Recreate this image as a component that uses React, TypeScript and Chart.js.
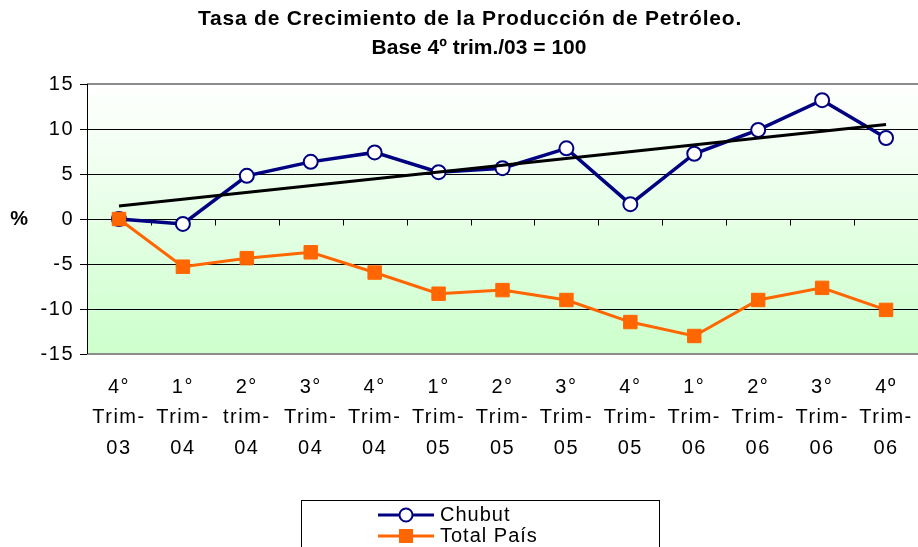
import React, { useEffect, useRef } from "react";
import { Chart, registerables } from "chart.js";

Chart.register(...registerables);

const categories: string[][] = [
  ["4°", "Trim-", "03"],
  ["1°", "Trim-", "04"],
  ["2°", "trim-", "04"],
  ["3°", "Trim-", "04"],
  ["4°", "Trim-", "04"],
  ["1°", "Trim-", "05"],
  ["2°", "Trim-", "05"],
  ["3°", "Trim-", "05"],
  ["4°", "Trim-", "05"],
  ["1°", "Trim-", "06"],
  ["2°", "Trim-", "06"],
  ["3°", "Trim-", "06"],
  ["4º", "Trim-", "06"],
];

const chubut = [0, -0.55, 4.8, 6.35, 7.4, 5.2, 5.65, 7.85, 1.65, 7.25, 9.9, 13.2, 9.0];
const totalPais = [0, -5.3, -4.35, -3.7, -5.95, -8.3, -7.9, -9.0, -11.45, -13.0, -9.0, -7.65, -10.1];
const trendChubut: (number | null)[] = [1.45, null, null, null, null, null, null, null, null, null, null, null, 10.5];

const yTicks = [-15, -10, -5, 0, 5, 10, 15];
const titleLines = ["Tasa de Crecimiento de la Producción de Petróleo.", "Base 4º trim./03 = 100"];
const yAxisLabel = "%";
const seriesNames = ["Chubut", "Total País", "Tendencia"];

const FONT = "'Liberation Sans', Arial, sans-serif";
const SPACING = "1.5px";

const spacingPlugin = {
  id: "spacing",
  beforeLayout(chart: any) {
    chart.ctx.letterSpacing = SPACING;
  },
  beforeDraw(chart: any) {
    chart.ctx.letterSpacing = SPACING;
  },
};

const backgroundPlugin = {
  id: "bg",
  beforeDraw(chart: any) {
    const { ctx, chartArea } = chart;
    const { left, top, right, bottom } = chartArea;
    ctx.save();
    ctx.fillStyle = "#ffffff";
    ctx.fillRect(0, 0, chart.width, chart.height);
    const g = ctx.createLinearGradient(0, top, 0, bottom);
    g.addColorStop(0, "#ffffff");
    g.addColorStop(1, "#ccffcc");
    ctx.fillStyle = g;
    ctx.fillRect(left, top, right - left, bottom - top);
    ctx.restore();
  },
  beforeDatasetsDraw(chart: any) {
    const { ctx, chartArea, scales } = chart;
    const { left, top, right, bottom } = chartArea;
    ctx.save();
    ctx.strokeStyle = "#8c8c8c";
    ctx.lineWidth = 2;
    ctx.beginPath();
    ctx.moveTo(left, top);
    ctx.lineTo(right, top);
    ctx.moveTo(left, bottom);
    ctx.lineTo(right, bottom);
    ctx.stroke();
    ctx.strokeStyle = "#000";
    ctx.lineWidth = 1;
    ctx.beginPath();
    ctx.moveTo(left + 0.5, top);
    ctx.lineTo(left + 0.5, bottom);
    ctx.stroke();
    // category tick marks on the zero line
    const y0 = Math.round(scales.y.getPixelForValue(0)) + 0.5;
    ctx.beginPath();
    for (let i = 1; i < categories.length; i++) {
      const x = Math.round((scales.x.getPixelForValue(i - 1) + scales.x.getPixelForValue(i)) / 2) + 0.5;
      ctx.moveTo(x, y0);
      ctx.lineTo(x, y0 + 6);
    }
    ctx.stroke();
    ctx.restore();
  },
};

const textPlugin = {
  id: "texts",
  afterDraw(chart: any) {
    const { ctx, scales } = chart;
    ctx.save();
    ctx.letterSpacing = "0.8px";
    ctx.fillStyle = "#000";
    ctx.textAlign = "center";
    ctx.textBaseline = "middle";
    ctx.font = `bold 21px ${FONT}`;
    ctx.fillText(titleLines[0], 470, 19);
    ctx.letterSpacing = "0px";
    ctx.fillText(titleLines[1], 479, 48);
    ctx.letterSpacing = SPACING;
    ctx.font = `bold 20px ${FONT}`;
    ctx.fillText(yAxisLabel, 20, scales.y.getPixelForValue(0));

    // legend
    const bx = 301.5, by = 500.5;
    ctx.strokeStyle = "#000";
    ctx.lineWidth = 1;
    ctx.fillStyle = "#fff";
    ctx.fillRect(bx, by, 358, 60);
    ctx.strokeRect(bx, by, 358, 60);
    const ds = chart.data.datasets;
    const rows = [0, 1];
    rows.forEach((di, r) => {
      const d = ds[di];
      const y = 515 + r * 21;
      ctx.strokeStyle = d.borderColor;
      ctx.lineWidth = 3;
      ctx.beginPath();
      ctx.moveTo(378, y);
      ctx.lineTo(434, y);
      ctx.stroke();
      if (d.pointStyle === "rect") {
        ctx.fillStyle = d.pointBackgroundColor;
        ctx.fillRect(399, y - 7, 14, 14);
      } else {
        ctx.beginPath();
        ctx.arc(406, y, 6.5, 0, Math.PI * 2);
        ctx.fillStyle = d.pointBackgroundColor;
        ctx.fill();
        ctx.strokeStyle = d.pointBorderColor;
        ctx.lineWidth = 2;
        ctx.stroke();
      }
      ctx.fillStyle = "#000";
      ctx.textAlign = "left";
      ctx.font = `20px ${FONT}`;
      ctx.letterSpacing = "1px";
      ctx.fillText(d.label, 440, y);
    });
    ctx.restore();
  },
};

export default function App() {
  const ref = useRef<HTMLCanvasElement>(null);
  useEffect(() => {
    if (!ref.current) return;
    const chart = new Chart(ref.current, {
      type: "line",
      data: {
        labels: categories,
        datasets: [
          {
            label: seriesNames[0],
            data: chubut,
            borderColor: "#000080",
            borderWidth: 3.5,
            pointStyle: "circle",
            pointRadius: 7,
            pointBackgroundColor: "#ffffff",
            pointBorderColor: "#000080",
            pointBorderWidth: 2,
            order: 2,
          } as any,
          {
            label: seriesNames[1],
            data: totalPais,
            borderColor: "#ff6600",
            borderWidth: 3,
            pointStyle: "rect",
            pointRadius: 9.5,
            pointBackgroundColor: "#ff6600",
            pointBorderColor: "#ff6600",
            pointBorderWidth: 1,
            order: 0,
          } as any,
          {
            label: seriesNames[2],
            data: trendChubut,
            borderColor: "#000000",
            borderWidth: 3,
            pointRadius: 0,
            spanGaps: true,
            order: 1,
          } as any,
        ],
      },
      options: {
        animation: false,
        responsive: false,
        maintainAspectRatio: false,
        layout: { autoPadding: false, padding: { top: 84, left: 0, right: 0, bottom: 0 } },
        plugins: {
          legend: { display: false },
          title: { display: false },
          tooltip: { enabled: false },
        },
        scales: {
          x: {
            offset: true,
            grid: { display: false },
            border: { display: false },
            ticks: {
              color: "#000",
              font: { family: FONT, size: 20, lineHeight: 1.52 },
              padding: 10,
              maxRotation: 0,
              autoSkip: false,
            },
            afterFit(scale: any) {
              scale.height = 193;
              scale.paddingRight = 0;
              scale.paddingLeft = 0;
            },
          },
          y: {
            min: -15,
            max: 15,
            afterBuildTicks(scale: any) {
              scale.ticks = yTicks.map((v) => ({ value: v }));
            },
            grid: {
              color: (c: any) => (Math.abs(c.tick?.value) === 15 ? "rgba(0,0,0,0)" : "#000"),
              tickColor: "#000",
              tickLength: 7,
              lineWidth: 1,
            },
            border: { display: true, color: "#000", width: 1 },
            ticks: {
              color: "#000",
              font: { family: FONT, size: 20 },
              padding: 6,
            },
            afterFit(scale: any) {
              scale.width = 87;
            },
          },
        },
      },
      plugins: [spacingPlugin, backgroundPlugin, textPlugin],
    });
    return () => chart.destroy();
  }, []);
  return (
    <div style={{ position: "fixed", left: 0, top: 0, width: 918, height: 547, background: "#fff" }}>
      <canvas ref={ref} width={918} height={547} style={{ width: 918, height: 547, display: "block" }} />
    </div>
  );
}
